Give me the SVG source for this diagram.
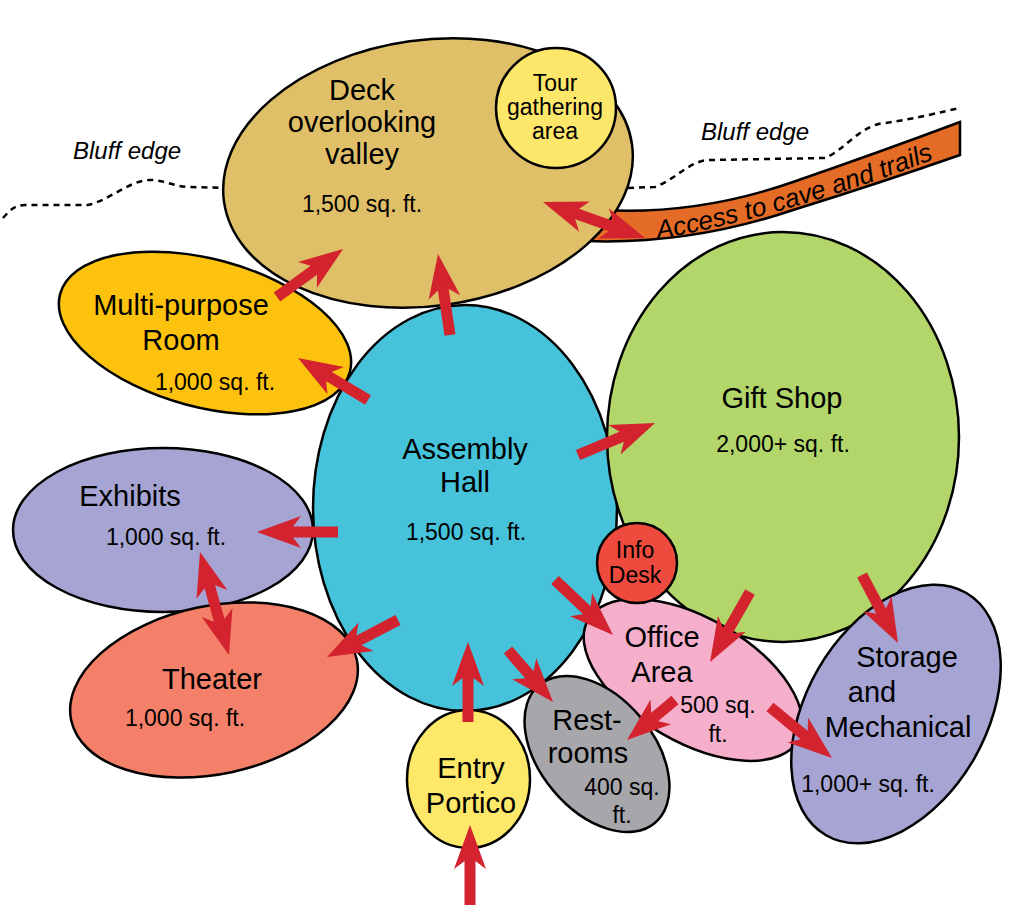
<svg xmlns="http://www.w3.org/2000/svg" width="1009" height="905" viewBox="0 0 1009 905">
<style>
.n{stroke:#000;stroke-width:2.5}
.t{font-family:"Liberation Sans",Arial,Helvetica,sans-serif;font-size:29px;fill:#000;text-anchor:middle}
.s{font-family:"Liberation Sans",Arial,Helvetica,sans-serif;font-size:23px;fill:#000;text-anchor:middle}
.i{font-family:"Liberation Sans",Arial,Helvetica,sans-serif;font-size:24px;font-style:italic;fill:#000}
.bluff{fill:none;stroke:#000;stroke-width:2.5;stroke-dasharray:6 5}
.c line{stroke:#D3232F;stroke-width:11}
.a1{marker-end:url(#ah)}
.a2{marker-start:url(#ah);marker-end:url(#ah)}
</style>
<defs>
<marker id="ah" markerUnits="userSpaceOnUse" markerWidth="44" markerHeight="34" viewBox="0 0 44 34" refX="16" refY="17" orient="auto-start-reverse">
<path d="M0,1 L44,17 L0,33 L12,17 Z" fill="#D3232F"/>
</marker>
<path id="accessPath" d="M658,239 C740,225 850,193 952,152"/>
</defs>
<rect width="1009" height="905" fill="#fff"/>

<g id="bluff-edges">
<path class="bluff" d="M3,218 C10,210 15,205 25,205 L88,205 C110,200 130,180 150,180 C165,180 175,187 190,187 L226,188"/>
<path class="bluff" d="M628,188 L655,187 C675,180 690,160 710,160 L825,158 C845,150 860,125 885,123 C920,118 940,112 960,108"/>
<text class="i" x="73" y="159">Bluff edge</text>
<text class="i" x="701" y="140">Bluff edge</text>
</g>

<g id="access">
<path d="M570,208 L585,209 Q690,218 793,182 Q880,152 960,122 L960,155 Q880,183 793,210 Q690,245 585,241 L570,241 Z" fill="#E46C26" stroke="#000" stroke-width="2.5"/>
<text class="i" style="font-size:26px"><textPath href="#accessPath">Access to cave and trails</textPath></text>
</g>

<g id="deck">
<ellipse class="n" cx="428" cy="173" rx="206" ry="133" transform="rotate(-8 428 173)" fill="#DFBF67"/>
<text class="t" x="362" y="100">Deck</text>
<text class="t" x="362" y="132">overlooking</text>
<text class="t" x="362" y="164">valley</text>
<text class="s" x="362" y="212">1,500 sq. ft.</text>
</g>

<g id="tour">
<circle class="n" cx="556" cy="108" r="60" fill="#FDE76A"/>
<text class="s" x="555" y="91">Tour</text>
<text class="s" x="555" y="115">gathering</text>
<text class="s" x="555" y="139">area</text>
</g>

<g id="multipurpose">
<ellipse class="n" cx="205" cy="333" rx="150" ry="74" transform="rotate(15 205 333)" fill="#FDC20D"/>
<text class="t" x="181" y="315">Multi-purpose</text>
<text class="t" x="181" y="350">Room</text>
<text class="s" x="215" y="390">1,000 sq. ft.</text>
</g>

<g id="exhibits">
<ellipse class="n" cx="163" cy="530" rx="150" ry="82" fill="#A6A4D2"/>
<text class="t" x="130" y="506">Exhibits</text>
<text class="s" x="166" y="545">1,000 sq. ft.</text>
</g>

<g id="theater">
<ellipse class="n" cx="214" cy="690" rx="146" ry="84" transform="rotate(-12 214 690)" fill="#F4806A"/>
<text class="t" x="212" y="689">Theater</text>
<text class="s" x="185" y="726">1,000 sq. ft.</text>
</g>

<g id="assembly">
<ellipse class="n" cx="465" cy="508" rx="152" ry="203" fill="#46C3DA"/>
<text class="t" x="465" y="459">Assembly</text>
<text class="t" x="465" y="492">Hall</text>
<text class="s" x="466" y="540">1,500 sq. ft.</text>
</g>

<g id="giftshop">
<ellipse class="n" cx="783" cy="437" rx="176" ry="205" fill="#B2D66A"/>
<text class="t" x="782" y="408">Gift Shop</text>
<text class="s" x="783" y="452">2,000+ sq. ft.</text>
</g>

<g id="office">
<ellipse class="n" cx="693" cy="680" rx="121" ry="62" transform="rotate(30 693 680)" fill="#F5AFCB"/>
<text class="t" x="662" y="647">Office</text>
<text class="t" x="662" y="682">Area</text>
<text class="s" x="718" y="713">500 sq.</text>
<text class="s" x="718" y="742">ft.</text>
</g>

<g id="infodesk">
<circle class="n" cx="637" cy="563" r="40" fill="#EE4B3E"/>
<text class="s" x="635" y="558">Info</text>
<text class="s" x="635" y="583">Desk</text>
</g>

<g id="restrooms">
<ellipse class="n" cx="597" cy="754" rx="90" ry="57" transform="rotate(50 597 754)" fill="#A7A7AB"/>
<text class="t" x="587" y="730">Rest-</text>
<text class="t" x="588" y="763">rooms</text>
<text class="s" x="622" y="795">400 sq.</text>
<text class="s" x="622" y="823">ft.</text>
</g>

<g id="entry">
<ellipse class="n" cx="468.5" cy="779" rx="61.5" ry="69" fill="#FDE86A"/>
<text class="t" x="471" y="778">Entry</text>
<text class="t" x="471" y="813">Portico</text>
</g>

<g id="storage">
<ellipse class="n" cx="896" cy="714" rx="140" ry="90" transform="rotate(-60 896 714)" fill="#A6A4D2"/>
<text class="t" x="907" y="667">Storage</text>
<text class="t" x="872" y="702">and</text>
<text class="t" x="898" y="737">Mechanical</text>
<text class="s" x="868" y="792">1,000+ sq. ft.</text>
</g>

<g id="connectors" class="c">
<line class="a1" x1="277" y1="297" x2="320.4" y2="265.5"/>
<line class="a1" x1="368" y1="400" x2="322" y2="372.4"/>
<line class="a1" x1="450" y1="335" x2="442.1" y2="281.7"/>
<line class="a2" x1="569.4" y1="211.3" x2="618.6" y2="228.7"/>
<line class="a1" x1="578" y1="455" x2="629.2" y2="433.7"/>
<line class="a1" x1="338" y1="532" x2="285" y2="532"/>
<line class="a2" x1="207.6" y1="579" x2="221.4" y2="628"/>
<line class="a1" x1="398" y1="620" x2="351.8" y2="644.1"/>
<line class="a1" x1="555" y1="580" x2="592.7" y2="615.7"/>
<line class="a1" x1="750" y1="592" x2="723.9" y2="637.7"/>
<line class="a1" x1="675" y1="700" x2="648.5" y2="722.1"/>
<line class="a1" x1="770" y1="707" x2="810.4" y2="740.2"/>
<line class="a1" x1="862" y1="575" x2="884.9" y2="618.2"/>
<line class="a1" x1="508" y1="650" x2="534.7" y2="680.8"/>
<line class="a1" x1="468" y1="722" x2="468" y2="670"/>
<line class="a1" x1="470" y1="905" x2="470" y2="853"/>
</g>
</svg>
